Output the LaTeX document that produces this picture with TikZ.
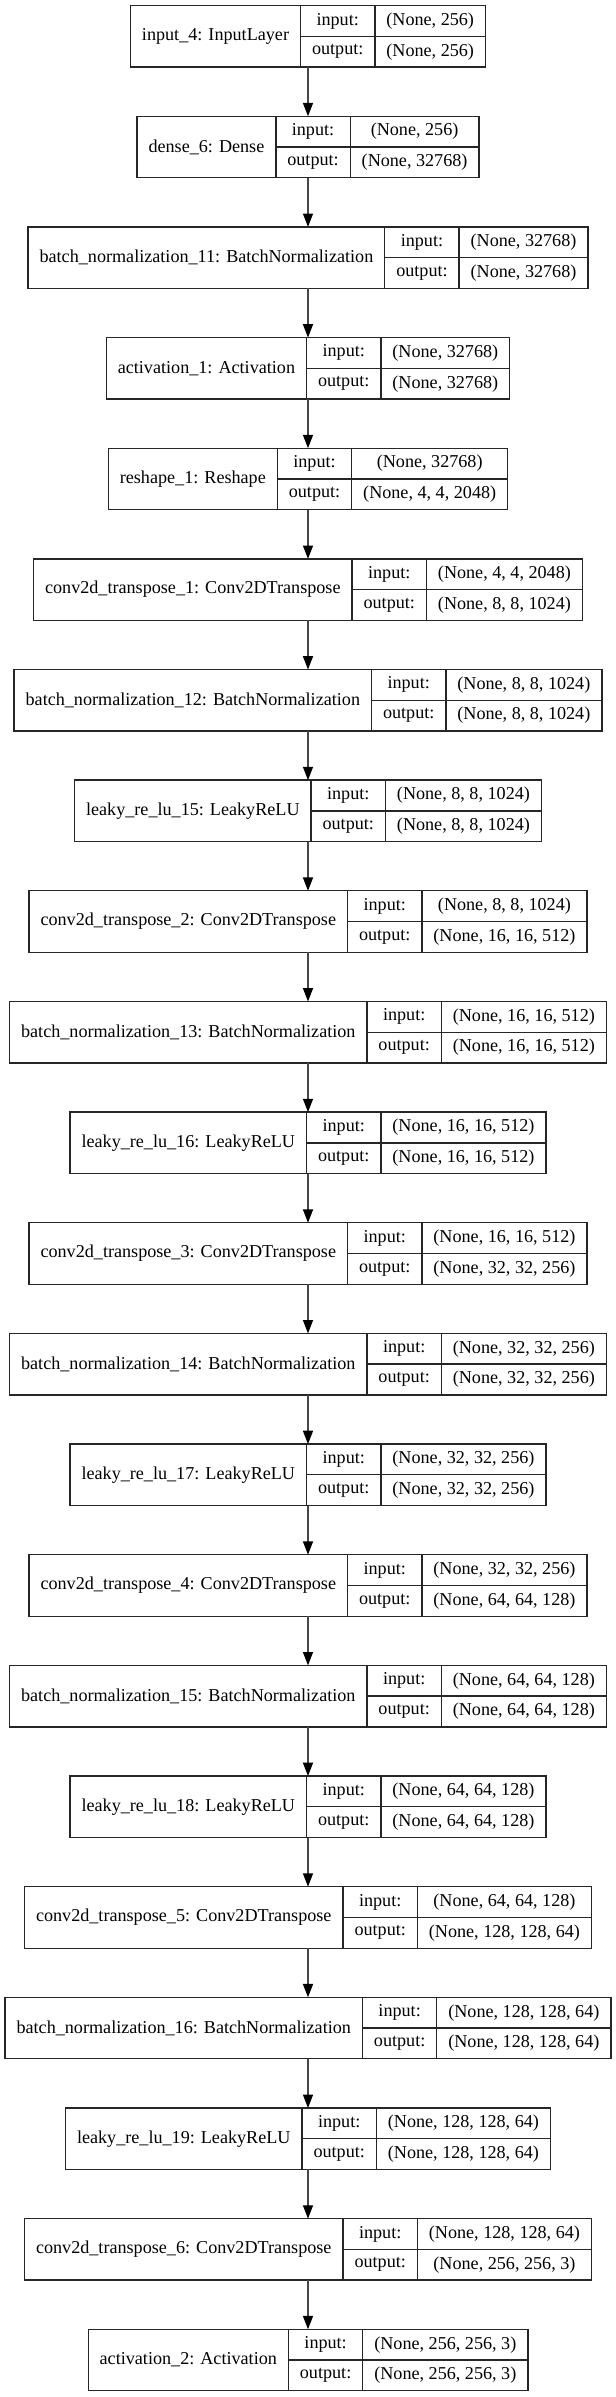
\documentclass[tikz,border=0pt]{standalone}
\usepackage{fontspec}
\setmainfont{Liberation Serif}
\usetikzlibrary{arrows.meta}
\newlength\px \setlength\px{0.75pt}
\newlength\LW \newlength\IW \newlength\SW \newlength\SWb \newlength\TW
\newcommand\lfont{\fontsize{13.6pt}{16pt}\selectfont}
\tikzset{
 fld/.style={draw=black!85, line width=1pt, inner sep=0pt, outer sep=0pt, font=\lfont, anchor=north west},
 whole/.style={draw=none, inner sep=0pt, outer sep=0pt, minimum height=61.5\px, anchor=north},
 arr/.style={draw=black!72, line width=1pt, -{Triangle[length=10pt,width=7.5pt,color=black]}}
}
% pass 1: measure widths (outside the picture)
\newcommand\measlyr[5]{%
 \settowidth\LW{\lfont #3}\addtolength\LW{23\px}%
 \settowidth\IW{\lfont output:}\addtolength\IW{23\px}%
 \settowidth\SW{\lfont #4}\settowidth\SWb{\lfont #5}%
 \ifdim\SWb>\SW \SW=\SWb\fi \addtolength\SW{23\px}%
 \TW=\dimexpr\LW+\IW+\SW\relax
 \expandafter\xdef\csname LW#1\endcsname{\the\LW}%
 \expandafter\xdef\csname IW#1\endcsname{\the\IW}%
 \expandafter\xdef\csname SW#1\endcsname{\the\SW}%
 \expandafter\xdef\csname TW#1\endcsname{\the\TW}%
}
% pass 2: draw
\newcommand\drawlyr[5]{%
 \pgfmathsetmacro\ytop{5.6+(#2-1)*110.65}%
 \node[whole, minimum width=\csname TW#1\endcsname] (#1) at (308,\ytop) {};
 \node[fld, minimum width=\csname LW#1\endcsname, minimum height=61.5\px] (#1-l) at (#1.north west) {#3};
 \node[fld, minimum width=\csname IW#1\endcsname, minimum height=30.75\px] (#1-i) at (#1-l.north east) {input:};
 \node[fld, minimum width=\csname IW#1\endcsname, minimum height=30.75\px] (#1-o) at (#1-i.south west) {output:};
 \node[fld, minimum width=\csname SW#1\endcsname, minimum height=30.75\px] (#1-si) at (#1-i.north east) {#4};
 \node[fld, minimum width=\csname SW#1\endcsname, minimum height=30.75\px] (#1-so) at (#1-si.south west) {#5};
}
\newcommand\alllayers{%
\lyr{L1}{1}{input\_4: InputLayer}{(None, 256)}{(None, 256)}
\lyr{L2}{2}{dense\_6: Dense}{(None, 256)}{(None, 32768)}
\lyr{L3}{3}{batch\_normalization\_11: BatchNormalization}{(None, 32768)}{(None, 32768)}
\lyr{L4}{4}{activation\_1: Activation}{(None, 32768)}{(None, 32768)}
\lyr{L5}{5}{reshape\_1: Reshape}{(None, 32768)}{(None, 4, 4, 2048)}
\lyr{L6}{6}{conv2d\_transpose\_1: Conv2DTranspose}{(None, 4, 4, 2048)}{(None, 8, 8, 1024)}
\lyr{L7}{7}{batch\_normalization\_12: BatchNormalization}{(None, 8, 8, 1024)}{(None, 8, 8, 1024)}
\lyr{L8}{8}{leaky\_re\_lu\_15: LeakyReLU}{(None, 8, 8, 1024)}{(None, 8, 8, 1024)}
\lyr{L9}{9}{conv2d\_transpose\_2: Conv2DTranspose}{(None, 8, 8, 1024)}{(None, 16, 16, 512)}
\lyr{L10}{10}{batch\_normalization\_13: BatchNormalization}{(None, 16, 16, 512)}{(None, 16, 16, 512)}
\lyr{L11}{11}{leaky\_re\_lu\_16: LeakyReLU}{(None, 16, 16, 512)}{(None, 16, 16, 512)}
\lyr{L12}{12}{conv2d\_transpose\_3: Conv2DTranspose}{(None, 16, 16, 512)}{(None, 32, 32, 256)}
\lyr{L13}{13}{batch\_normalization\_14: BatchNormalization}{(None, 32, 32, 256)}{(None, 32, 32, 256)}
\lyr{L14}{14}{leaky\_re\_lu\_17: LeakyReLU}{(None, 32, 32, 256)}{(None, 32, 32, 256)}
\lyr{L15}{15}{conv2d\_transpose\_4: Conv2DTranspose}{(None, 32, 32, 256)}{(None, 64, 64, 128)}
\lyr{L16}{16}{batch\_normalization\_15: BatchNormalization}{(None, 64, 64, 128)}{(None, 64, 64, 128)}
\lyr{L17}{17}{leaky\_re\_lu\_18: LeakyReLU}{(None, 64, 64, 128)}{(None, 64, 64, 128)}
\lyr{L18}{18}{conv2d\_transpose\_5: Conv2DTranspose}{(None, 64, 64, 128)}{(None, 128, 128, 64)}
\lyr{L19}{19}{batch\_normalization\_16: BatchNormalization}{(None, 128, 128, 64)}{(None, 128, 128, 64)}
\lyr{L20}{20}{leaky\_re\_lu\_19: LeakyReLU}{(None, 128, 128, 64)}{(None, 128, 128, 64)}
\lyr{L21}{21}{conv2d\_transpose\_6: Conv2DTranspose}{(None, 128, 128, 64)}{(None, 256, 256, 3)}
\lyr{L22}{22}{activation\_2: Activation}{(None, 256, 256, 3)}{(None, 256, 256, 3)}
}
\begin{document}
\let\lyr\measlyr
\alllayers
\begin{tikzpicture}[x=0.75pt, y=-0.75pt]
\useasboundingbox (0,0) rectangle (616,2397);
\let\lyr\drawlyr
\alllayers
\foreach \a [evaluate=\a as \b using int(\a+1)] in {1,...,21}
  \draw[arr] (L\a.south) -- (L\b.north);
\end{tikzpicture}
\end{document}
